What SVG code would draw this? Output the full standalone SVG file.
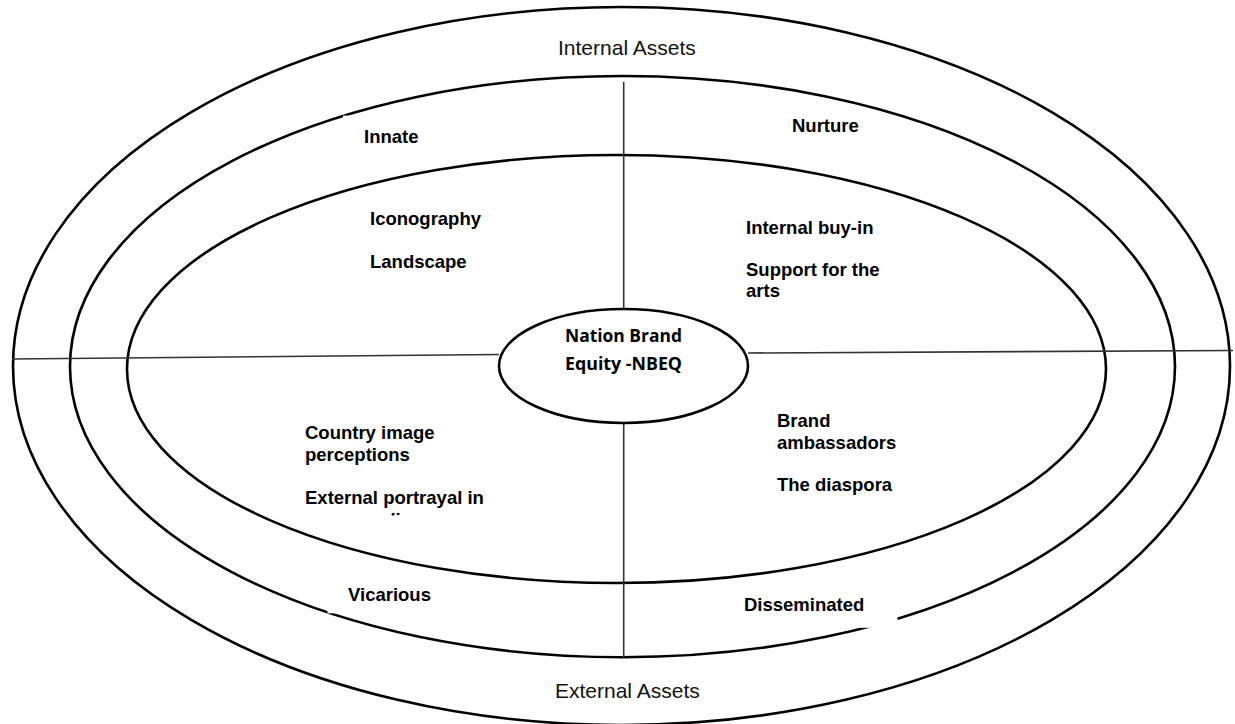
<svg xmlns="http://www.w3.org/2000/svg" width="1235" height="724" viewBox="0 0 1235 724">
  <defs>
    <style>
      .ring { fill: none; stroke: #000; stroke-width: 2.6; }
      .divider { fill: none; stroke: #333; stroke-width: 1.6; }
      .mask { fill: #fff; stroke: none; }
      .label { font-family: "Liberation Sans", Arial, sans-serif; font-weight: bold; font-size: 18.5px; fill: #000; }
      .zone { font-family: "Liberation Sans", Arial, sans-serif; font-size: 21px; fill: #111; }
      .core { font-family: "Open Sans", "Noto Sans", sans-serif; font-weight: bold; font-size: 18.6px; fill: #000; }
    </style>
    <clipPath id="vicBox">
      <rect x="295" y="415" width="200" height="100.5"/>
    </clipPath>
  </defs>

  <rect width="1235" height="724" fill="#fff"/>

  <!-- concentric rings -->
  <g id="rings">
    <ellipse class="ring" cx="621.5" cy="366" rx="608.5" ry="359"/>
    <ellipse class="ring" cx="622.5" cy="366.6" rx="552.5" ry="290.6"/>
    <ellipse class="ring" cx="616.5" cy="369" rx="489.5" ry="214"/>
  </g>

  <!-- quadrant dividers -->
  <g id="connectors">
    <line class="divider" x1="623.7" y1="82" x2="623.7" y2="310"/>
    <line class="divider" x1="623.7" y1="423" x2="623.7" y2="658"/>
    <line class="divider" x1="12" y1="359" x2="499" y2="354.5"/>
    <line class="divider" x1="748" y1="353" x2="1233" y2="350.5"/>
  </g>

  <!-- white label boxes that cut the middle ring -->
  <rect class="mask" x="343" y="115.6" width="60" height="40"/>
  <rect class="mask" x="327.5" y="584" width="120" height="29.3"/>
  <rect class="mask" x="740" y="588" width="157.5" height="39.8"/>

  <g id="zone-internal">
    <text class="zone" x="558" y="55">Internal Assets</text>
  </g>
  <g id="zone-external">
    <text class="zone" x="555" y="698">External Assets</text>
  </g>

  <g id="core">
    <ellipse class="ring" cx="623.5" cy="366" rx="124.5" ry="57" fill="#fff"/>
    <text class="core" x="565" y="342" textLength="117" lengthAdjust="spacingAndGlyphs">Nation Brand</text>
    <text class="core" x="565" y="370" textLength="117" lengthAdjust="spacingAndGlyphs">Equity -NBEQ</text>
  </g>

  <g id="innate">
    <text class="label" x="364" y="143">Innate</text>
    <text class="label" x="370" y="225">Iconography</text>
    <text class="label" x="370" y="268">Landscape</text>
  </g>

  <g id="nurture">
    <text class="label" x="792" y="132">Nurture</text>
    <text class="label" x="746" y="234">Internal buy-in</text>
    <text class="label" x="746" y="276">Support for the</text>
    <text class="label" x="746" y="297">arts</text>
  </g>

  <g id="vicarious">
    <g clip-path="url(#vicBox)">
      <text class="label" x="305" y="439">Country image</text>
      <text class="label" x="305" y="461">perceptions</text>
      <text class="label" x="305" y="504">External portrayal in</text>
      <text class="label" x="305" y="526">mass media</text>
    </g>
    <text class="label" x="348" y="601">Vicarious</text>
  </g>

  <g id="disseminated">
    <text class="label" x="777" y="427">Brand</text>
    <text class="label" x="777" y="449">ambassadors</text>
    <text class="label" x="777" y="491">The diaspora</text>
    <text class="label" x="744" y="611">Disseminated</text>
  </g>
</svg>
